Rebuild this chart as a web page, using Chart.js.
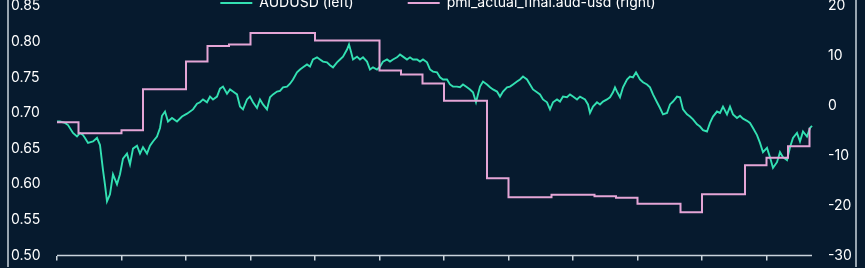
<!DOCTYPE html>
<html>
<head>
<meta charset="utf-8">
<script src="https://cdn.jsdelivr.net/npm/chart.js@4.4.1/dist/chart.umd.min.js"></script>
<style>
  html, body { margin: 0; padding: 0; width: 865px; height: 268px; overflow: hidden; background: #061a2e; }
  #wrap { position: absolute; left: 0; top: -72px; width: 865px; height: 339px; }
</style>
</head>
<body>
<div id="wrap"><canvas id="chart"></canvas></div>
<script>
// AUDUSD, x = trading day counted from the start of the sample
const audDays = [
  0, 3, 8, 11, 16, 20, 23, 26, 28, 31,
  36, 40, 43, 46, 48, 50, 53, 56, 60, 63,
  66, 70, 73, 76, 80, 83, 86, 90, 93, 96,
  100, 103, 105, 108, 111, 115, 120, 125, 130, 136,
  140, 143, 146, 150, 153, 156, 160, 163, 166, 170,
  173, 176, 180, 183, 186, 190, 193, 196, 200, 203,
  206, 210, 213, 216, 220, 223, 226, 230, 233, 236,
  240, 243, 246, 250, 253, 256, 260, 263, 266, 270,
  273, 276, 280, 283, 286, 290, 292, 294, 296, 300,
  303, 306, 310, 313, 316, 320, 323, 326, 330, 333,
  336, 340, 343, 346, 350, 353, 356, 360, 363, 366,
  370, 373, 376, 380, 383, 386, 390, 393, 396, 400,
  403, 406, 410, 413, 416, 419, 423, 426, 430, 433,
  436, 440, 443, 446, 450, 453, 456, 460, 463, 466,
  470, 473, 476, 480, 483, 486, 490, 493, 496, 500,
  503, 506, 510, 513, 516, 520, 523, 528, 531, 533,
  536, 540, 543, 546, 550, 553, 556, 558, 560, 563,
  566, 570, 573, 576, 579, 583, 586, 590, 593, 596,
  600, 603, 606, 610, 613, 616, 620, 623, 626, 630,
  633, 636, 640, 643, 646, 650, 653, 656, 660, 663,
  666, 670, 673, 676, 680, 683, 686, 690, 693, 696,
  700, 703, 706, 710, 713, 716, 718, 720, 723, 726,
  730, 733, 736, 740, 743, 746, 750, 753, 755
];
const audValues = [
  0.688, 0.688, 0.686, 0.683, 0.672, 0.667, 0.672, 0.669, 0.665, 0.658,
  0.660, 0.665, 0.655, 0.620, 0.599, 0.576, 0.586, 0.614, 0.600, 0.614,
  0.636, 0.643, 0.628, 0.650, 0.654, 0.643, 0.652, 0.643, 0.654, 0.660,
  0.667, 0.679, 0.696, 0.702, 0.688, 0.693, 0.688, 0.695, 0.699, 0.705,
  0.713, 0.715, 0.719, 0.715, 0.723, 0.719, 0.723, 0.734, 0.737, 0.727,
  0.733, 0.730, 0.726, 0.709, 0.705, 0.719, 0.723, 0.715, 0.707, 0.719,
  0.712, 0.705, 0.722, 0.726, 0.730, 0.731, 0.736, 0.737, 0.741, 0.747,
  0.757, 0.761, 0.764, 0.768, 0.765, 0.775, 0.778, 0.775, 0.772, 0.771,
  0.767, 0.764, 0.771, 0.775, 0.779, 0.789, 0.796, 0.786, 0.775, 0.779,
  0.775, 0.778, 0.772, 0.761, 0.764, 0.761, 0.765, 0.772, 0.775, 0.772,
  0.775, 0.778, 0.782, 0.779, 0.775, 0.778, 0.775, 0.775, 0.772, 0.775,
  0.771, 0.761, 0.758, 0.757, 0.750, 0.747, 0.747, 0.740, 0.737, 0.737,
  0.736, 0.740, 0.736, 0.733, 0.729, 0.715, 0.737, 0.744, 0.740, 0.736,
  0.733, 0.730, 0.723, 0.730, 0.736, 0.737, 0.740, 0.744, 0.747, 0.751,
  0.747, 0.740, 0.733, 0.729, 0.726, 0.719, 0.715, 0.705, 0.715, 0.719,
  0.716, 0.723, 0.722, 0.726, 0.723, 0.719, 0.723, 0.719, 0.712, 0.700,
  0.709, 0.715, 0.712, 0.716, 0.719, 0.722, 0.729, 0.736, 0.730, 0.722,
  0.736, 0.747, 0.751, 0.750, 0.757, 0.747, 0.743, 0.740, 0.736, 0.726,
  0.715, 0.707, 0.698, 0.700, 0.712, 0.716, 0.723, 0.722, 0.705, 0.698,
  0.695, 0.691, 0.684, 0.681, 0.676, 0.674, 0.686, 0.695, 0.702, 0.700,
  0.709, 0.698, 0.709, 0.698, 0.693, 0.696, 0.692, 0.689, 0.686, 0.679,
  0.669, 0.658, 0.645, 0.651, 0.638, 0.623, 0.627, 0.631, 0.645, 0.638,
  0.634, 0.652, 0.665, 0.672, 0.660, 0.674, 0.667, 0.679, 0.682
];

// monthly PMI differential, one value per month
const pmiValues = [
  -3.3, -5.5, -5.5, -4.9, 3.3, 3.3, 8.9, 12.0, 12.3, 14.6,
  14.6, 14.6, 13.1, 13.1, 13.1, 7.1, 6.3, 4.5, 1.0, 1.0,
  -14.5, -18.3, -18.3, -17.8, -17.8, -18.1, -18.4, -19.6, -19.6, -21.3,
  -17.7, -17.7, -11.9, -10.4, -8.1, -4.4
];

const DAYS_PER_MONTH = 21.5;
const xTickMonths = [0, 3, 6, 9, 12, 15, 18, 21, 24, 27, 30, 33];
const leftTicks = [0.50, 0.55, 0.60, 0.65, 0.70, 0.75, 0.80, 0.85];
const rightTicks = [-30, -20, -10, 0, 10, 20];

const teal = '#33e0b2';
const pink = '#e4a5d6';
const axisColor = '#c9d3dc';
const textColor = '#ffffff';
const font = { family: 'Inter', size: 14 };

// spines: left/right run the full height, the bottom one only spans the data
const axisLines = {
  id: 'axisLines',
  afterDatasetsDraw(chart) {
    const { ctx, chartArea, scales } = chart;
    const yb = scales.y.getPixelForValue(leftTicks[0]);
    ctx.save();
    ctx.strokeStyle = axisColor;
    ctx.lineWidth = 1.5;
    ctx.beginPath();
    ctx.moveTo(chartArea.left, 0);
    ctx.lineTo(chartArea.left, chart.height);
    ctx.moveTo(scales.y1.right, 0);
    ctx.lineTo(scales.y1.right, chart.height);
    ctx.moveTo(scales.x.getPixelForValue(audDays[0]), yb);
    ctx.lineTo(scales.x.getPixelForValue(audDays[audDays.length - 1]), yb);
    ctx.stroke();
    ctx.restore();
  }
};

// the legend overlaps the top of the plot, as in the original
const legendOverlay = {
  id: 'legendOverlay',
  afterLayout(chart) {
    const lg = chart.legend;
    lg.top += 14; lg.bottom += 14;
    lg.left += 6; lg.right += 6;
  }
};

const ctx = document.getElementById('chart').getContext('2d');
const chart = new Chart(ctx, {
  type: 'line',
  data: {
    datasets: [
      {
        label: 'AUDUSD (left)',
        data: audDays.map((d, i) => ({ x: d, y: audValues[i] })),
        yAxisID: 'y',
        borderColor: teal,
        backgroundColor: teal,
        borderWidth: 1.9,
        pointRadius: 0,
        tension: 0,
        order: 1
      },
      {
        label: 'pmi_actual_final.aud-usd (right)',
        data: pmiValues.map((v, i) => ({ x: i * DAYS_PER_MONTH, y: v })),
        yAxisID: 'y1',
        borderColor: pink,
        backgroundColor: pink,
        borderWidth: 2,
        pointRadius: 0,
        stepped: 'before',
        order: 0
      }
    ]
  },
  options: {
    responsive: true,
    maintainAspectRatio: false,
    animation: false,
    layout: { padding: { left: 8, right: 9, top: 0, bottom: 0 } },
    plugins: {
      tooltip: { enabled: false },
      legend: {
        position: 'top',
        labels: {
          usePointStyle: true,
          pointStyle: 'line',
          pointStyleWidth: 32,
          padding: 54,
          color: textColor,
          font: font,
          sort: (a, b) => a.datasetIndex - b.datasetIndex
        }
      }
    },
    scales: {
      x: {
        type: 'linear',
        min: -49,
        max: 768,
        afterBuildTicks: (scale) => {
          scale.ticks = xTickMonths.map(m => ({ value: m * DAYS_PER_MONTH }));
        },
        ticks: { display: false },
        grid: { drawOnChartArea: false, drawTicks: true, tickLength: 5, color: axisColor, lineWidth: 1.5 },
        border: { display: false }
      },
      y: {
        position: 'left',
        min: 0.5,
        max: 0.85,
        afterBuildTicks: (scale) => { scale.ticks = leftTicks.map(v => ({ value: v })); },
        afterFit: (scale) => { scale.width = 0; },
        ticks: {
          mirror: true,
          padding: 3,
          color: textColor,
          font: font,
          callback: (v) => v.toFixed(2)
        },
        grid: { display: false, drawTicks: false, tickLength: 0 },
        border: { display: false }
      },
      y1: {
        position: 'right',
        min: -30,
        max: 20,
        afterBuildTicks: (scale) => { scale.ticks = rightTicks.map(v => ({ value: v })); },
        afterFit: (scale) => { scale.width = 31; },
        ticks: {
          padding: 3,
          crossAlign: 'near',
          color: textColor,
          font: font
        },
        grid: { display: false, drawTicks: false, tickLength: 0 },
        border: { display: false }
      }
    }
  },
  plugins: [axisLines, legendOverlay]
});
</script>
</body>
</html>
